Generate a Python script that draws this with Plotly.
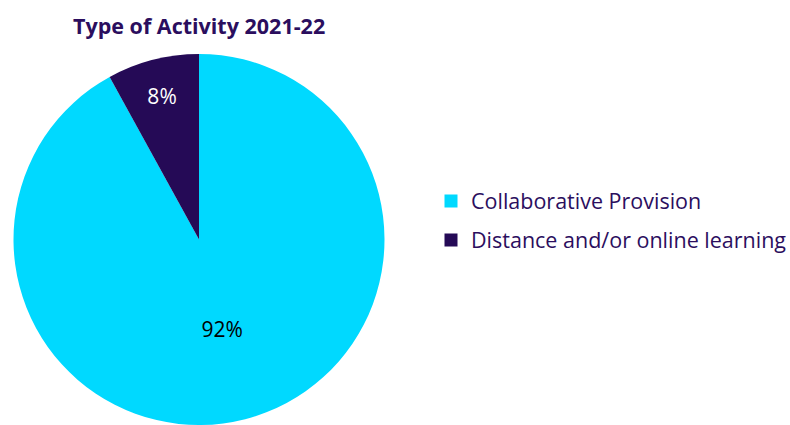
import plotly.graph_objects as go

labels = ["Collaborative Provision", "Distance and/or online learning"]
values = [92, 8]
colors = ["#00D9FF", "#250A56"]
text_colors = ["#000000", "#FFFFFF"]
title_text = "Type of Activity 2021-22"

W, H = 790, 425
cx, cy, r = 199, 240, 186

fig = go.Figure()
fig.add_trace(go.Pie(
    labels=labels,
    values=values,
    sort=False,
    direction="clockwise",
    rotation=0,
    marker=dict(colors=colors, line=dict(width=0)),
    textinfo="percent",
    textposition="inside",
    insidetextorientation="horizontal",
    insidetextfont=dict(color=text_colors, size=21, family="Open Sans"),
    domain=dict(x=[(cx - r) / W, (cx + r) / W], y=[0, min(1, (H - (cy - r)) / H)]),
    hoverinfo="label+percent",
    showlegend=False,
))

# legend entries (one group per category so the rows can be spaced)
for i, (lab, col) in enumerate(zip(labels, colors)):
    fig.add_trace(go.Scatter(
        x=[None], y=[None], mode="markers", name=lab,
        marker=dict(symbol="square", size=13, color=col),
        legendgroup="g%d" % i, showlegend=True, hoverinfo="skip",
    ))

fig.add_annotation(
    text="<b>" + title_text + "</b>", x=cx / W, y=1 - 25 / H,
    xref="paper", yref="paper", xanchor="center", yanchor="middle",
    showarrow=False, font=dict(size=21.5, color="#2B0E5E", family="Open Sans"),
)

fig.update_layout(
    width=W, height=H,
    margin=dict(l=0, r=0, t=0, b=0, autoexpand=False),
    paper_bgcolor="white",
    plot_bgcolor="white",
    xaxis=dict(visible=False),
    yaxis=dict(visible=False),
    showlegend=True,
    legend=dict(
        x=431 / W, y=1 - 220.5 / H, xanchor="left", yanchor="middle",
        font=dict(size=21.5, color="#2B0E5E", family="Open Sans"),
        itemwidth=30, tracegroupgap=8, traceorder="grouped",
    ),
)

fig.write_html(
    "out.html",
    config={"displayModeBar": False},
    post_script="document.body.style.margin='0px';document.body.style.overflow='hidden';",
)
